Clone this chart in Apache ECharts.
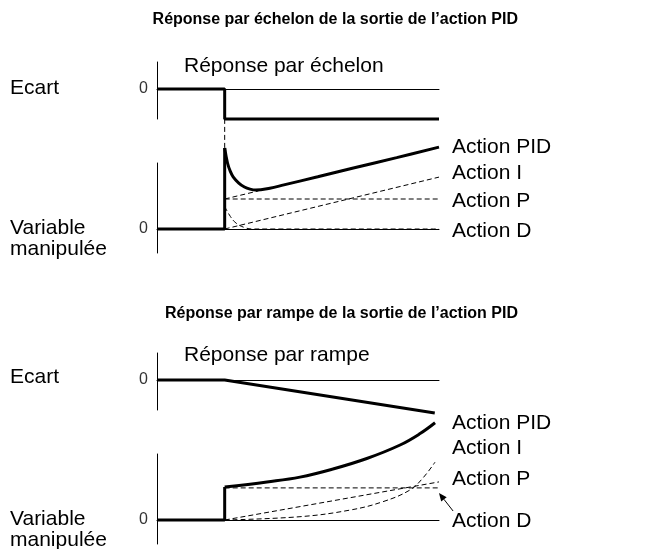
<!DOCTYPE html>
<html>
<head>
<meta charset="utf-8">
<script src="https://cdn.jsdelivr.net/npm/echarts@6/dist/echarts.min.js"></script>
<style>
html, body { margin: 0; padding: 0; background: #fff; }
#chart { width: 652px; height: 549px; }
</style>
</head>
<body>
<div id="chart"></div>
<script>
// time axis goes 0..10, the step / ramp starts at t = 2.4
// vertical unit: 1 = size of the P step

// --- réponse par échelon ---
var stepErr = [[0, 0], [2.4, 0], [2.4, -1], [10, -1]];
var stepPIDJump = [[0, 0], [2.4, 0], [2.4, 2.7]];
var stepPIDCurve = [[2.4, 2.7], [2.5, 2.2], [2.6, 1.92], [2.7, 1.74], [2.9, 1.53], [3.1, 1.4],
    [3.3, 1.33], [3.5, 1.3], [4.0, 1.36], [4.5, 1.47], [5.7, 1.74], [7, 2.04], [8.5, 2.38], [10, 2.73]];
var stepI = [[2.4, 0], [10, 1.73]];
var stepP = [[2.4, 1], [10, 1]];
var stepD = [[2.4, 0.75], [2.6, 0.42], [2.8, 0.2], [3.1, 0.05], [3.4, 0], [10, 0]];
var stepPI = [[2.4, 1], [3.6, 1.27]];
var stepLink = [[2.4, 3.67], [2.4, 2.7]];

// --- réponse par rampe ---
var rampErr = [[0, 0], [2.4, 0], [9.85, -1.1]];
var rampPIDJump = [[0, 0], [2.4, 0], [2.4, 1.1]];
var rampPIDCurve = [[2.4, 1.1], [3.9, 1.27], [5.07, 1.43], [6.24, 1.7], [7.44, 2.05],
    [8.62, 2.5], [9.33, 2.88], [9.86, 3.24]];
var rampP = [[2.4, 0], [10, 1.27]];
var rampI = [[2.4, 0], [5.07, 0.11], [6.84, 0.33], [8.01, 0.61], [8.97, 1.0], [9.43, 1.4], [9.86, 1.93]];
var rampD = [[2.4, 1.07], [10, 1.07]];

var actionLabels = ['Action PID', 'Action I', 'Action P', 'Action D'];

var font = '"Liberation Sans", Arial, sans-serif';
var chart = echarts.init(document.getElementById('chart'), null, { renderer: 'canvas' });

function xAx(i) {
    return {
        type: 'value', gridIndex: i, min: 0, max: 10,
        axisLine: { show: true, onZero: true, lineStyle: { color: '#000', width: 1 } },
        axisTick: { show: false }, axisLabel: { show: false }, splitLine: { show: false }
    };
}
function yAx(i, min, max, step) {
    return {
        type: 'value', gridIndex: i, min: min, max: max, interval: step,
        axisLine: { show: true, lineStyle: { color: '#000', width: 1 } },
        axisTick: { show: false }, splitLine: { show: false },
        axisLabel: {
            margin: 9, color: '#333', fontFamily: font, fontSize: 16,
            formatter: function (v) { return Math.abs(v) < 1e-6 ? '0' : ''; }
        }
    };
}
function thick(i, data, smooth) {
    return { type: 'line', xAxisIndex: i, yAxisIndex: i, data: data, symbol: 'none', clip: false,
        smooth: smooth || false, lineStyle: { color: '#000', width: 3 }, z: 3 };
}
function dashed(i, data, smooth) {
    return { type: 'line', xAxisIndex: i, yAxisIndex: i, data: data, symbol: 'none', clip: false,
        smooth: smooth || false, lineStyle: { color: '#000', width: 1, type: [5, 3] }, z: 2 };
}
function txt(x, y, s) {
    return { type: 'text', x: x, y: y, style: {
        text: s, fill: '#000', font: '21px ' + font, verticalAlign: 'middle', align: 'left' } };
}

var graphics = [
    txt(10, 88, 'Ecart'), txt(10, 228, 'Variable'), txt(10, 249, 'manipulée'),
    txt(10, 377, 'Ecart'), txt(10, 519, 'Variable'), txt(10, 540, 'manipulée'),
    txt(184, 66, 'Réponse par échelon'), txt(184, 355, 'Réponse par rampe')
];
var topY = [147, 173, 201, 231];
var botY = [423, 448, 479, 521];
actionLabels.forEach(function (s, k) {
    graphics.push(txt(452, topY[k], s));
    graphics.push(txt(452, botY[k], s));
});

chart.setOption({
    animation: false,
    title: [
        { text: 'Réponse par échelon de la sortie de l’action PID', right: 134, top: 12, padding: 0,
          textStyle: { fontFamily: font, fontSize: 16, fontWeight: 'bold', color: '#000' } },
        { text: 'Réponse par rampe de la sortie de l’action PID', right: 134, top: 306, padding: 0,
          textStyle: { fontFamily: font, fontSize: 16, fontWeight: 'bold', color: '#000' } }
    ],
    grid: [
        { left: 157, right: 213, top: 62, height: 57 },
        { left: 157, right: 213, top: 163, height: 90 },
        { left: 157, right: 213, top: 353, height: 57 },
        { left: 157, right: 213, top: 454, height: 90 }
    ],
    xAxis: [xAx(0), xAx(1), xAx(2), xAx(3)],
    yAxis: [yAx(0, -1, 0.9, 0.5), yAx(1, -0.8, 2.2, 0.4), yAx(2, -1, 0.9, 0.5), yAx(3, -0.8, 2.2, 0.4)],
    series: [
        thick(0, stepErr),
        thick(1, stepPIDJump), thick(1, stepPIDCurve, 0.4),
        dashed(1, stepI), dashed(1, stepP), dashed(1, stepD, 0.4), dashed(1, stepPI), dashed(1, stepLink),
        thick(2, rampErr),
        thick(3, rampPIDJump), thick(3, rampPIDCurve, 0.4),
        dashed(3, rampP), dashed(3, rampI, 0.4), dashed(3, rampD)
    ],
    graphic: graphics
});

// arrow from the "Action D" label to the D line
var tip = chart.convertToPixel({ gridIndex: 3 }, [10, 0.9]);
var tail = chart.convertToPixel({ gridIndex: 3 }, [10.5, 0.3]);
var ang = Math.atan2(tip[1] - tail[1], tip[0] - tail[0]);
var hl = 8, hw = 3.5;
var bx = tip[0] - hl * Math.cos(ang), by = tip[1] - hl * Math.sin(ang);
graphics.push({ type: 'line', shape: { x1: tail[0], y1: tail[1], x2: bx, y2: by },
    style: { stroke: '#000', lineWidth: 1 } });
graphics.push({ type: 'polygon', shape: { points: [tip,
    [bx + hw * Math.sin(ang), by - hw * Math.cos(ang)],
    [bx - hw * Math.sin(ang), by + hw * Math.cos(ang)]] }, style: { fill: '#000' } });
chart.setOption({ graphic: graphics });
</script>
</body>
</html>
